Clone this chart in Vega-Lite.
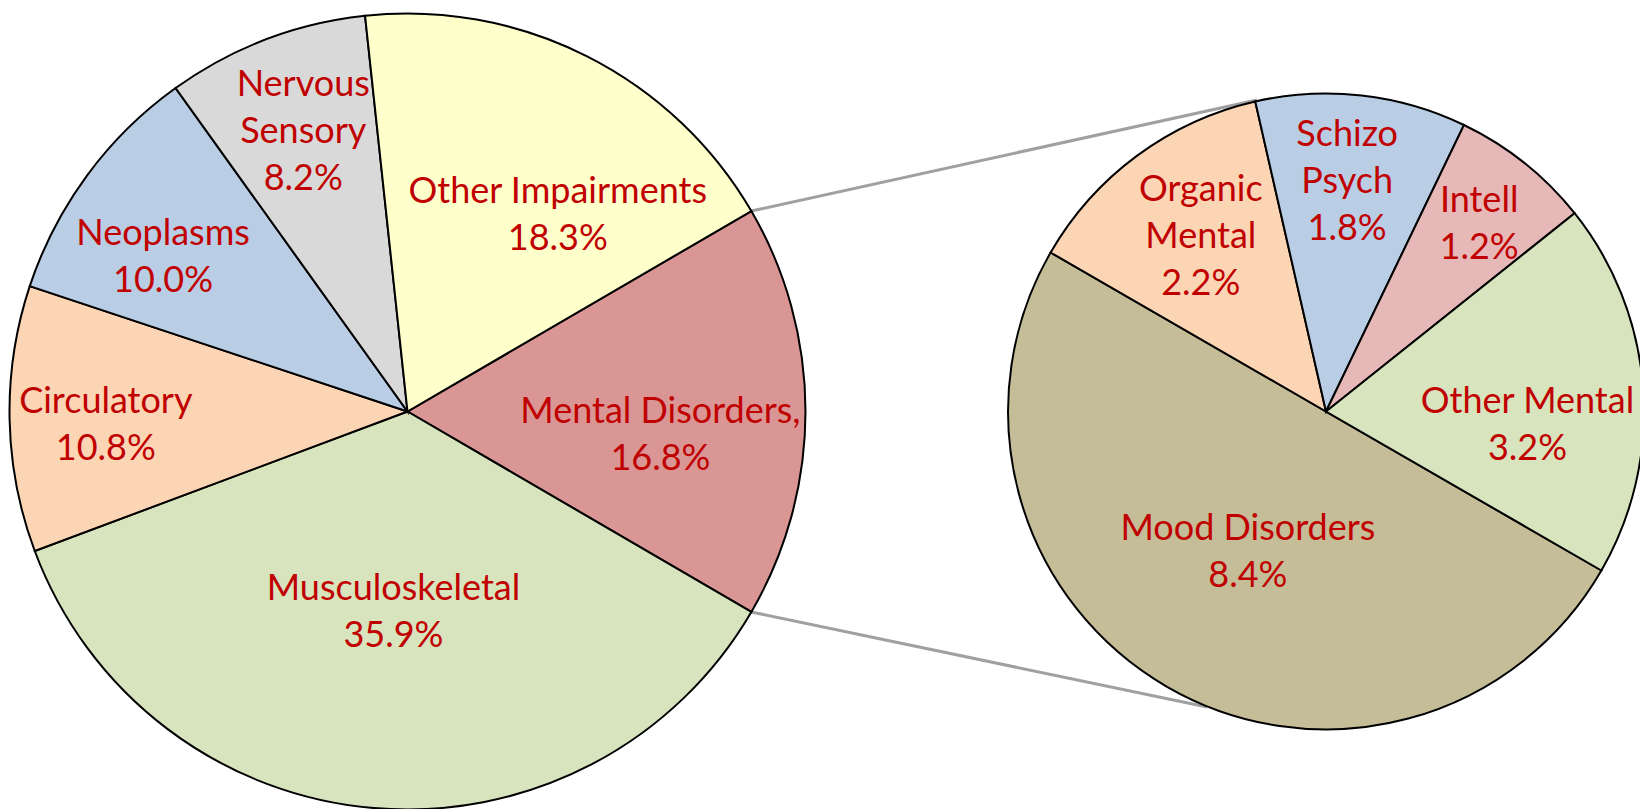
{
  "$schema": "https://vega.github.io/schema/vega-lite/v6.json",
  "width": 1640,
  "height": 809,
  "padding": 0,
  "autosize": {"type": "none"},
  "background": "white",
  "config": {
    "view": {"stroke": null},
    "text": {"font": "Lato", "fontSize": 36, "fill": "#C00000"}
  },
  "datasets": {
    "slices": [
      {"pie": "All impairments", "category": "Mental Disorders", "value": 16.8, "seq": 1, "label": "Mental Disorders,\n16.8%"},
      {"pie": "All impairments", "category": "Musculoskeletal", "value": 35.9, "seq": 2, "label": "Musculoskeletal\n35.9%"},
      {"pie": "All impairments", "category": "Circulatory", "value": 10.8, "seq": 3, "label": "Circulatory\n10.8%"},
      {"pie": "All impairments", "category": "Neoplasms", "value": 10.0, "seq": 4, "label": "Neoplasms\n10.0%"},
      {"pie": "All impairments", "category": "Nervous Sensory", "value": 8.2, "seq": 5, "label": "Nervous\nSensory\n8.2%"},
      {"pie": "All impairments", "category": "Other Impairments", "value": 18.3, "seq": 6, "label": "Other Impairments\n18.3%"},
      {"pie": "Mental disorders", "category": "Mood Disorders", "value": 8.4, "seq": 1, "label": "Mood Disorders\n8.4%"},
      {"pie": "Mental disorders", "category": "Organic Mental", "value": 2.2, "seq": 2, "label": "Organic\nMental\n2.2%"},
      {"pie": "Mental disorders", "category": "Schizo Psych", "value": 1.8, "seq": 3, "label": "Schizo\nPsych\n1.8%"},
      {"pie": "Mental disorders", "category": "Intell", "value": 1.2, "seq": 4, "label": "Intell\n1.2%"},
      {"pie": "Mental disorders", "category": "Other Mental", "value": 3.2, "seq": 5, "label": "Other Mental\n3.2%"}
    ]
  },
  "data": {"name": "slices"},
  "resolve": {"scale": {"theta": "independent"}},
  "layer": [
    {
      "data": {"values": [{}]},
      "mark": {"type": "rule", "stroke": "#A0A0A0", "strokeWidth": 3},
      "encoding": {
        "x": {"datum": 0.8639, "type": "quantitative", "scale": {"domain": [-1.02387, 3.09673], "nice": false, "zero": false}, "axis": null},
        "y": {"datum": 0.5037, "type": "quantitative", "scale": {"domain": [-0.99874, 1.03392], "nice": false, "zero": false}, "axis": null},
        "x2": {"datum": 2.1344},
        "y2": {"datum": 0.7827}
      }
    },
    {
      "data": {"values": [{}]},
      "mark": {"type": "rule", "stroke": "#A0A0A0", "strokeWidth": 3},
      "encoding": {
        "x": {"datum": 0.8639, "type": "quantitative", "scale": {"domain": [-1.02387, 3.09673], "nice": false, "zero": false}, "axis": null},
        "y": {"datum": -0.5037, "type": "quantitative", "scale": {"domain": [-0.99874, 1.03392], "nice": false, "zero": false}, "axis": null},
        "x2": {"datum": 2.0088},
        "y2": {"datum": -0.7425}
      }
    },
    {
      "transform": [{"filter": "datum.pie === 'All impairments'"}],
      "mark": {"type": "arc", "outerRadius": 398, "stroke": "#000000", "strokeWidth": 2},
      "encoding": {
        "x": {"datum": 0, "type": "quantitative", "scale": {"domain": [-1.02387, 3.09673], "nice": false, "zero": false}, "axis": null},
        "y": {"datum": 0, "type": "quantitative", "scale": {"domain": [-0.99874, 1.03392], "nice": false, "zero": false}, "axis": null},
        "theta": {"field": "value", "type": "quantitative", "stack": true, "scale": {"domain": [0, 100], "range": [1.04301, 7.3262]}},
        "order": {"field": "seq", "type": "quantitative"},
        "color": {"field": "category", "type": "nominal", "legend": null, "scale": {
          "domain": ["Mental Disorders", "Musculoskeletal", "Circulatory", "Neoplasms", "Nervous Sensory", "Other Impairments", "Mood Disorders", "Organic Mental", "Schizo Psych", "Intell", "Other Mental"],
          "range": ["#D99694", "#D7E4BD", "#FCD5B5", "#B9CDE5", "#D9D9D9", "#FFFFCC", "#C4BD97", "#FCD5B5", "#B9CDE5", "#E6B9B8", "#D7E4BD"]}}
      }
    },
    {
      "transform": [{"filter": "datum.pie === 'Mental disorders'"}],
      "mark": {"type": "arc", "outerRadius": 318, "stroke": "#000000", "strokeWidth": 2},
      "encoding": {
        "x": {"datum": 2.30779, "type": "quantitative", "scale": {"domain": [-1.02387, 3.09673], "nice": false, "zero": false}, "axis": null},
        "y": {"datum": 0, "type": "quantitative", "scale": {"domain": [-0.99874, 1.03392], "nice": false, "zero": false}, "axis": null},
        "theta": {"field": "value", "type": "quantitative", "stack": true, "scale": {"domain": [0, 16.8], "range": [2.0944, 8.37758]}},
        "order": {"field": "seq", "type": "quantitative"},
        "color": {"field": "category", "type": "nominal", "legend": null, "scale": {
          "domain": ["Mental Disorders", "Musculoskeletal", "Circulatory", "Neoplasms", "Nervous Sensory", "Other Impairments", "Mood Disorders", "Organic Mental", "Schizo Psych", "Intell", "Other Mental"],
          "range": ["#D99694", "#D7E4BD", "#FCD5B5", "#B9CDE5", "#D9D9D9", "#FFFFCC", "#C4BD97", "#FCD5B5", "#B9CDE5", "#E6B9B8", "#D7E4BD"]}}
      }
    },
    {
      "transform": [{"filter": "datum.pie === 'All impairments'"}],
      "mark": {"type": "text", "radius": 201, "thetaOffset": -0.015, "dy": -23.5, "lineBreak": "\n", "align": "center", "baseline": "middle", "lineHeight": 47},
      "encoding": {
        "x": {"datum": 0, "type": "quantitative", "scale": {"domain": [-1.02387, 3.09673], "nice": false, "zero": false}, "axis": null},
        "y": {"datum": 0, "type": "quantitative", "scale": {"domain": [-0.99874, 1.03392], "nice": false, "zero": false}, "axis": null},
        "theta": {"field": "value", "type": "quantitative", "stack": true, "scale": {"domain": [0, 100], "range": [1.04301, 7.3262]}},
        "order": {"field": "seq", "type": "quantitative"},
        "detail": {"field": "category", "type": "nominal"},
        "text": {"condition": {"test": "datum.category === 'Musculoskeletal'", "field": "label", "type": "nominal"}, "value": ""}
      }
    },
    {
      "transform": [{"filter": "datum.pie === 'All impairments'"}],
      "mark": {"type": "text", "radius": 247, "thetaOffset": 0.186, "dy": -23.5, "lineBreak": "\n", "align": "center", "baseline": "middle", "lineHeight": 47},
      "encoding": {
        "x": {"datum": 0, "type": "quantitative", "scale": {"domain": [-1.02387, 3.09673], "nice": false, "zero": false}, "axis": null},
        "y": {"datum": 0, "type": "quantitative", "scale": {"domain": [-0.99874, 1.03392], "nice": false, "zero": false}, "axis": null},
        "theta": {"field": "value", "type": "quantitative", "stack": true, "scale": {"domain": [0, 100], "range": [1.04301, 7.3262]}},
        "order": {"field": "seq", "type": "quantitative"},
        "detail": {"field": "category", "type": "nominal"},
        "text": {"condition": {"test": "datum.category === 'Other Impairments'", "field": "label", "type": "nominal"}, "value": ""}
      }
    },
    {
      "transform": [{"filter": "datum.pie === 'All impairments'"}],
      "mark": {"type": "text", "radius": 254, "thetaOffset": 0.094, "dy": -23.5, "lineBreak": "\n", "align": "center", "baseline": "middle", "lineHeight": 47},
      "encoding": {
        "x": {"datum": 0, "type": "quantitative", "scale": {"domain": [-1.02387, 3.09673], "nice": false, "zero": false}, "axis": null},
        "y": {"datum": 0, "type": "quantitative", "scale": {"domain": [-0.99874, 1.03392], "nice": false, "zero": false}, "axis": null},
        "theta": {"field": "value", "type": "quantitative", "stack": true, "scale": {"domain": [0, 100], "range": [1.04301, 7.3262]}},
        "order": {"field": "seq", "type": "quantitative"},
        "detail": {"field": "category", "type": "nominal"},
        "text": {"condition": {"test": "datum.category === 'Mental Disorders'", "field": "label", "type": "nominal"}, "value": ""}
      }
    },
    {
      "transform": [{"filter": "datum.pie === 'All impairments'"}],
      "mark": {"type": "text", "radius": 302, "thetaOffset": -0.026, "dy": -23.5, "lineBreak": "\n", "align": "center", "baseline": "middle", "lineHeight": 47},
      "encoding": {
        "x": {"datum": 0, "type": "quantitative", "scale": {"domain": [-1.02387, 3.09673], "nice": false, "zero": false}, "axis": null},
        "y": {"datum": 0, "type": "quantitative", "scale": {"domain": [-0.99874, 1.03392], "nice": false, "zero": false}, "axis": null},
        "theta": {"field": "value", "type": "quantitative", "stack": true, "scale": {"domain": [0, 100], "range": [1.04301, 7.3262]}},
        "order": {"field": "seq", "type": "quantitative"},
        "detail": {"field": "category", "type": "nominal"},
        "text": {"condition": {"test": "datum.category === 'Circulatory'", "field": "label", "type": "nominal"}, "value": ""}
      }
    },
    {
      "transform": [{"filter": "datum.pie === 'All impairments'"}],
      "mark": {"type": "text", "radius": 289, "thetaOffset": -0.072, "dy": -23.5, "lineBreak": "\n", "align": "center", "baseline": "middle", "lineHeight": 47},
      "encoding": {
        "x": {"datum": 0, "type": "quantitative", "scale": {"domain": [-1.02387, 3.09673], "nice": false, "zero": false}, "axis": null},
        "y": {"datum": 0, "type": "quantitative", "scale": {"domain": [-0.99874, 1.03392], "nice": false, "zero": false}, "axis": null},
        "theta": {"field": "value", "type": "quantitative", "stack": true, "scale": {"domain": [0, 100], "range": [1.04301, 7.3262]}},
        "order": {"field": "seq", "type": "quantitative"},
        "detail": {"field": "category", "type": "nominal"},
        "text": {"condition": {"test": "datum.category === 'Neoplasms'", "field": "label", "type": "nominal"}, "value": ""}
      }
    },
    {
      "transform": [{"filter": "datum.pie === 'All impairments'"}],
      "mark": {"type": "text", "radius": 298, "thetaOffset": 0.007, "dy": -47, "lineBreak": "\n", "align": "center", "baseline": "middle", "lineHeight": 47},
      "encoding": {
        "x": {"datum": 0, "type": "quantitative", "scale": {"domain": [-1.02387, 3.09673], "nice": false, "zero": false}, "axis": null},
        "y": {"datum": 0, "type": "quantitative", "scale": {"domain": [-0.99874, 1.03392], "nice": false, "zero": false}, "axis": null},
        "theta": {"field": "value", "type": "quantitative", "stack": true, "scale": {"domain": [0, 100], "range": [1.04301, 7.3262]}},
        "order": {"field": "seq", "type": "quantitative"},
        "detail": {"field": "category", "type": "nominal"},
        "text": {"condition": {"test": "datum.category === 'Nervous Sensory'", "field": "label", "type": "nominal"}, "value": ""}
      }
    },
    {
      "transform": [{"filter": "datum.pie === 'Mental disorders'"}],
      "mark": {"type": "text", "radius": 215, "thetaOffset": 0.014, "dy": -47, "lineBreak": "\n", "align": "center", "baseline": "middle", "lineHeight": 47},
      "encoding": {
        "x": {"datum": 2.30779, "type": "quantitative", "scale": {"domain": [-1.02387, 3.09673], "nice": false, "zero": false}, "axis": null},
        "y": {"datum": 0, "type": "quantitative", "scale": {"domain": [-0.99874, 1.03392], "nice": false, "zero": false}, "axis": null},
        "theta": {"field": "value", "type": "quantitative", "stack": true, "scale": {"domain": [0, 16.8], "range": [2.0944, 8.37758]}},
        "order": {"field": "seq", "type": "quantitative"},
        "detail": {"field": "category", "type": "nominal"},
        "text": {"condition": {"test": "datum.category === 'Organic Mental'", "field": "label", "type": "nominal"}, "value": ""}
      }
    },
    {
      "transform": [{"filter": "datum.pie === 'Mental disorders'"}],
      "mark": {"type": "text", "radius": 230, "thetaOffset": -0.02, "dy": -47, "lineBreak": "\n", "align": "center", "baseline": "middle", "lineHeight": 47},
      "encoding": {
        "x": {"datum": 2.30779, "type": "quantitative", "scale": {"domain": [-1.02387, 3.09673], "nice": false, "zero": false}, "axis": null},
        "y": {"datum": 0, "type": "quantitative", "scale": {"domain": [-0.99874, 1.03392], "nice": false, "zero": false}, "axis": null},
        "theta": {"field": "value", "type": "quantitative", "stack": true, "scale": {"domain": [0, 16.8], "range": [2.0944, 8.37758]}},
        "order": {"field": "seq", "type": "quantitative"},
        "detail": {"field": "category", "type": "nominal"},
        "text": {"condition": {"test": "datum.category === 'Schizo Psych'", "field": "label", "type": "nominal"}, "value": ""}
      }
    },
    {
      "transform": [{"filter": "datum.pie === 'Mental disorders'"}],
      "mark": {"type": "text", "radius": 242, "thetaOffset": 0.012, "dy": -23.5, "lineBreak": "\n", "align": "center", "baseline": "middle", "lineHeight": 47},
      "encoding": {
        "x": {"datum": 2.30779, "type": "quantitative", "scale": {"domain": [-1.02387, 3.09673], "nice": false, "zero": false}, "axis": null},
        "y": {"datum": 0, "type": "quantitative", "scale": {"domain": [-0.99874, 1.03392], "nice": false, "zero": false}, "axis": null},
        "theta": {"field": "value", "type": "quantitative", "stack": true, "scale": {"domain": [0, 16.8], "range": [2.0944, 8.37758]}},
        "order": {"field": "seq", "type": "quantitative"},
        "detail": {"field": "category", "type": "nominal"},
        "text": {"condition": {"test": "datum.category === 'Intell'", "field": "label", "type": "nominal"}, "value": ""}
      }
    },
    {
      "transform": [{"filter": "datum.pie === 'Mental disorders'"}],
      "mark": {"type": "text", "radius": 202, "thetaOffset": 0.145, "dy": -23.5, "lineBreak": "\n", "align": "center", "baseline": "middle", "lineHeight": 47},
      "encoding": {
        "x": {"datum": 2.30779, "type": "quantitative", "scale": {"domain": [-1.02387, 3.09673], "nice": false, "zero": false}, "axis": null},
        "y": {"datum": 0, "type": "quantitative", "scale": {"domain": [-0.99874, 1.03392], "nice": false, "zero": false}, "axis": null},
        "theta": {"field": "value", "type": "quantitative", "stack": true, "scale": {"domain": [0, 16.8], "range": [2.0944, 8.37758]}},
        "order": {"field": "seq", "type": "quantitative"},
        "detail": {"field": "category", "type": "nominal"},
        "text": {"condition": {"test": "datum.category === 'Other Mental'", "field": "label", "type": "nominal"}, "value": ""}
      }
    },
    {
      "transform": [{"filter": "datum.pie === 'Mental disorders'"}],
      "mark": {"type": "text", "radius": 161, "thetaOffset": -0.017, "dy": -23.5, "lineBreak": "\n", "align": "center", "baseline": "middle", "lineHeight": 47},
      "encoding": {
        "x": {"datum": 2.30779, "type": "quantitative", "scale": {"domain": [-1.02387, 3.09673], "nice": false, "zero": false}, "axis": null},
        "y": {"datum": 0, "type": "quantitative", "scale": {"domain": [-0.99874, 1.03392], "nice": false, "zero": false}, "axis": null},
        "theta": {"field": "value", "type": "quantitative", "stack": true, "scale": {"domain": [0, 16.8], "range": [2.0944, 8.37758]}},
        "order": {"field": "seq", "type": "quantitative"},
        "detail": {"field": "category", "type": "nominal"},
        "text": {"condition": {"test": "datum.category === 'Mood Disorders'", "field": "label", "type": "nominal"}, "value": ""}
      }
    }
  ]
}
